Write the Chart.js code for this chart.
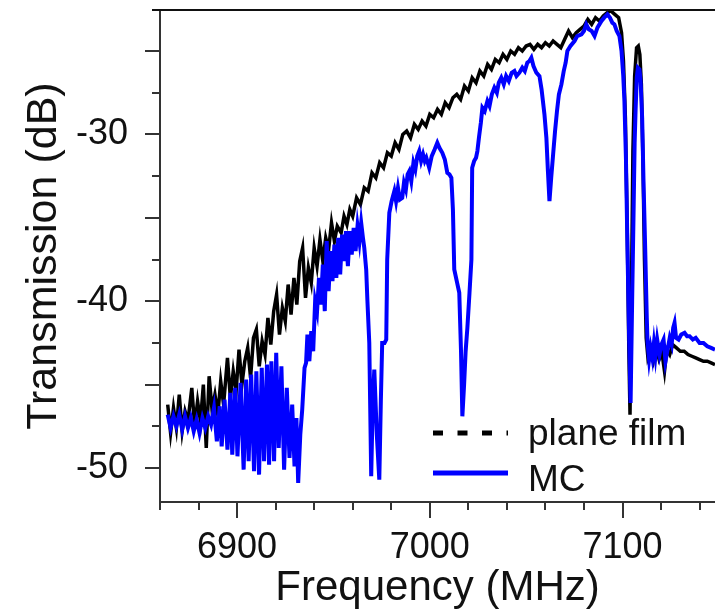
<!DOCTYPE html>
<html lang="en">
<head>
<meta charset="UTF-8">
<title>Transmission</title>
<script src="https://cdn.jsdelivr.net/npm/chart.js"></script>
<style>
  html, body { margin: 0; padding: 0; background: #fff; overflow: hidden; }
</style>
</head>
<body>
<canvas id="myChart" width="715" height="615"></canvas>
<script>

// plane film trace, frequency (MHz) / transmission (dB)
const filmFreq = [
  6864.0, 6865.5, 6867.0, 6868.5, 6870.0, 6871.5, 6873.0, 6874.5, 6876.5, 6878.0,
  6879.5, 6881.0, 6882.5, 6884.0, 6885.5, 6887.0, 6888.5, 6890.0, 6891.5, 6893.0,
  6895.0, 6896.5, 6898.0, 6899.5, 6901.0, 6902.5, 6904.0, 6905.5, 6907.0, 6908.5,
  6910.0, 6911.5, 6913.0, 6914.5, 6916.0, 6917.5, 6919.0, 6920.5, 6922.0, 6923.5,
  6925.0, 6926.5, 6928.0, 6929.5, 6931.0, 6932.5, 6934.0, 6935.5, 6937.0, 6938.5,
  6940.0, 6941.5, 6943.0, 6944.5, 6946.0, 6947.5, 6949.0, 6950.5, 6952.0, 6954.0,
  6955.5, 6957.0, 6958.5, 6960.0, 6962.0, 6964.0, 6966.0, 6968.0, 6970.0, 6972.0,
  6974.0, 6976.0, 6978.0, 6980.0, 6982.0, 6984.0, 6986.0, 6988.0, 6990.0, 6992.0,
  6994.0, 6996.0, 6998.0, 7000.0, 7002.0, 7004.0, 7006.0, 7008.0, 7010.0, 7012.0,
  7014.0, 7016.0, 7018.0, 7020.0, 7022.0, 7024.0, 7026.0, 7028.0, 7030.0, 7032.0,
  7034.0, 7036.0, 7038.0, 7040.0, 7042.0, 7044.0, 7046.0, 7048.0, 7050.0, 7052.0,
  7054.0, 7056.0, 7058.0, 7060.0, 7062.0, 7064.0, 7066.0, 7068.0, 7070.0, 7072.0,
  7074.0, 7076.0, 7078.0, 7080.0, 7082.0, 7084.0, 7086.0, 7088.0, 7090.0, 7092.0,
  7094.0, 7096.0, 7098.0, 7099.5, 7100.5, 7101.5, 7102.5, 7103.3, 7103.9, 7104.6,
  7105.4, 7106.3, 7107.3, 7108.2, 7109.0, 7109.8, 7110.6, 7111.4, 7112.3, 7113.2,
  7114.5, 7116.0, 7117.5, 7119.0, 7120.5, 7121.8, 7123.0, 7124.5, 7126.0, 7128.0,
  7130.0, 7132.0, 7134.0, 7136.0, 7138.0, 7140.0, 7142.0, 7144.0, 7146.0, 7148.0
];
const filmDb = [
  -46.2, -47.9, -46.4, -47.6, -45.6, -47.8, -46.6, -47.2, -45.2, -47.5,
  -46.0, -47.2, -45.0, -48.8, -44.5, -46.5, -45.6, -46.8, -44.8, -46.2,
  -43.4, -45.8, -44.2, -45.4, -42.9, -45.0, -43.6, -42.8, -44.6, -42.2,
  -41.7, -43.9, -42.4, -43.2, -41.0, -42.6, -40.6, -39.6, -42.0, -40.4,
  -41.2, -39.0, -40.8, -38.6, -40.2, -37.6, -36.8, -39.8, -38.0, -38.9,
  -36.8, -37.9, -36.3, -37.6, -36.2, -36.9, -35.3, -36.4, -35.5, -35.9,
  -34.9, -35.4, -34.5, -34.9, -33.8, -34.2, -33.2, -33.4, -32.3, -32.6,
  -31.7, -32.0, -31.1, -31.3, -30.5, -30.9, -30.0, -29.8, -30.2, -29.4,
  -29.7, -29.2, -29.5, -28.8, -29.0, -28.5, -28.8, -28.1, -28.4, -27.8,
  -27.6, -27.9, -27.1, -27.4, -26.6, -26.9, -26.2, -26.5, -25.8, -26.1,
  -25.5, -25.7, -25.2, -25.5, -25.0, -25.2, -24.8, -25.0, -24.7, -24.6,
  -24.9, -24.6, -24.8, -24.5, -24.7, -24.4, -24.6, -24.8, -24.3, -23.8,
  -24.2, -23.9, -23.7, -23.5, -23.1, -23.4, -23.0, -23.2, -22.9, -22.7,
  -22.6, -22.8, -23.0, -23.9, -25.6, -29.0, -36.0, -43.0, -46.8, -40.0,
  -31.0, -26.5, -24.8, -24.7, -25.2, -27.0, -31.5, -37.5, -42.2, -43.4,
  -43.0, -43.6, -42.8, -43.5, -43.1, -44.2, -42.9, -43.2, -42.6, -42.8,
  -43.0, -43.0, -43.2, -43.3, -43.4, -43.5, -43.6, -43.6, -43.7, -43.8
];

// MC trace
const mcFreq = [
  6864.0, 6865.5, 6867.0, 6868.5, 6870.0, 6871.5, 6873.0, 6874.5, 6876.0, 6877.5,
  6879.0, 6880.5, 6882.0, 6883.5, 6885.0, 6886.5, 6888.0, 6889.5, 6891.0, 6892.0,
  6893.5, 6895.0, 6896.5, 6897.5, 6899.0, 6900.2, 6901.8, 6903.4, 6904.7, 6906.0,
  6907.3, 6908.8, 6910.0, 6911.4, 6912.8, 6914.0, 6915.5, 6916.6, 6917.8, 6919.2,
  6920.3, 6921.6, 6923.0, 6924.4, 6925.8, 6927.2, 6928.6, 6929.8, 6930.8, 6931.7,
  6932.8, 6933.8, 6935.0, 6935.8, 6936.5, 6937.5, 6938.5, 6939.5, 6940.5, 6941.5,
  6942.5, 6943.5, 6944.5, 6945.5, 6946.5, 6947.5, 6948.5, 6949.5, 6950.5, 6951.5,
  6952.5, 6953.5, 6954.5, 6955.5, 6956.5, 6957.5, 6958.5, 6959.5, 6960.5, 6961.5,
  6962.5, 6963.5, 6964.4, 6965.3, 6966.0, 6967.0, 6967.6, 6968.6, 6969.6, 6970.4,
  6971.2, 6972.5, 6973.8, 6974.6, 6975.3, 6976.5, 6977.4, 6977.9, 6979.0, 6980.2,
  6981.6, 6982.5, 6983.5, 6984.5, 6985.7, 6986.6, 6987.6, 6988.5, 6989.4, 6990.4,
  6991.5, 6992.5, 6993.5, 6994.5, 6995.5, 6996.5, 6997.4, 6998.2, 6999.7, 7001.0,
  7002.5, 7003.9, 7005.0, 7006.5, 7007.8, 7009.1, 7010.2, 7011.2, 7012.0, 7012.7,
  7014.0, 7015.3, 7016.2, 7016.9, 7017.8, 7018.6, 7019.5, 7020.6, 7021.6, 7022.0,
  7023.0, 7024.0, 7024.7, 7025.5, 7026.5, 7027.3, 7028.5, 7029.9, 7031.0, 7032.2,
  7033.5, 7034.8, 7035.8, 7037.1, 7038.4, 7039.6, 7041.0, 7042.5, 7043.9, 7045.0,
  7046.5, 7048.0, 7049.3, 7050.6, 7051.7, 7052.7, 7053.8, 7055.3, 7056.9, 7058.0,
  7059.5, 7060.5, 7061.3, 7062.1, 7063.0, 7064.0, 7065.0, 7066.0, 7067.0, 7068.3,
  7069.5, 7070.5, 7071.4, 7073.0, 7075.1, 7076.5, 7078.7, 7080.0, 7081.2, 7082.5,
  7084.0, 7085.5, 7087.0, 7089.1, 7090.5, 7092.2, 7093.5, 7094.7, 7095.8, 7097.0,
  7098.4, 7099.5, 7100.4, 7101.0, 7101.8, 7102.6, 7103.4, 7104.2, 7105.0, 7105.7,
  7106.3, 7106.8, 7107.4, 7108.0, 7108.8, 7109.4, 7110.2, 7110.9, 7111.8, 7112.6,
  7113.0, 7113.8, 7114.6, 7115.5, 7116.3, 7117.1, 7118.0, 7119.2, 7120.2, 7121.3,
  7122.3, 7123.4, 7124.5, 7125.5, 7126.3, 7127.0, 7127.8, 7129.1, 7130.5, 7132.2,
  7133.5, 7134.8, 7136.5, 7138.0, 7140.0, 7142.0, 7144.0, 7146.0, 7148.0
];
const mcDb = [
  -46.8, -47.6, -46.9, -47.5, -46.8, -47.7, -46.9, -47.6, -47.0, -47.8,
  -47.1, -47.9, -47.0, -47.6, -46.9, -47.4, -46.4, -48.4, -46.3, -48.7,
  -45.9, -48.9, -45.5, -49.2, -45.2, -49.3, -44.9, -50.1, -44.7, -49.6,
  -44.4, -50.2, -44.2, -50.4, -44.0, -49.6, -43.8, -49.8, -43.6, -49.6,
  -43.1, -48.8, -43.9, -50.1, -45.2, -49.4, -46.2, -49.9, -47.0, -50.9,
  -48.0, -46.5, -44.0, -43.7, -42.0, -43.6, -41.8, -43.0, -40.0, -40.6,
  -38.6, -40.2, -37.8, -40.6, -36.4, -39.4, -37.0, -38.8, -36.6, -38.6,
  -36.2, -38.4, -36.0, -37.6, -35.8, -37.9, -35.8, -37.2, -35.6, -37.0,
  -35.5, -36.4, -35.3, -36.2, -36.8, -38.1, -39.9, -42.5, -50.5, -46.0,
  -44.1, -48.0, -50.7, -46.0, -42.5, -42.5, -42.3, -37.5, -34.7, -34.0,
  -33.4, -34.0, -33.2, -33.9, -33.8, -32.9, -33.3, -32.4, -32.2, -32.8,
  -31.7, -32.1, -31.3, -31.0, -31.6, -31.2, -31.6, -31.4, -32.0, -31.3,
  -30.9, -30.5, -30.8, -31.1, -31.5, -32.3, -32.4, -32.6, -34.5, -38.1,
  -38.8, -39.5, -43.0, -46.9, -45.0, -43.0, -41.6, -39.5, -37.5, -32.0,
  -31.6, -31.4, -31.0, -30.2, -29.3, -28.4, -28.6, -28.0, -28.3, -27.6,
  -27.2, -27.5, -26.9, -26.6, -27.0, -26.5, -26.8, -26.3, -26.2, -26.5,
  -26.3, -26.0, -26.2, -25.7, -25.6, -25.4, -25.9, -26.3, -26.5, -27.3,
  -28.8, -30.2, -32.2, -34.0, -32.6, -31.2, -29.8, -28.6, -27.6, -27.0,
  -26.2, -25.7, -25.0, -24.7, -24.4, -24.1, -24.0, -23.8, -23.4, -23.7,
  -23.8, -24.1, -23.6, -23.2, -23.0, -22.8, -23.0, -23.3, -23.4, -23.8,
  -24.1, -25.0, -26.5, -28.0, -31.5, -37.0, -42.0, -46.1, -40.0, -35.0,
  -30.5, -28.5, -26.6, -26.0, -26.1, -26.8, -29.0, -32.8, -37.0, -41.0,
  -42.5, -43.5, -42.8, -43.4, -42.5, -43.3, -42.3, -43.2, -42.6, -42.3,
  -43.6, -42.9, -42.2, -42.6, -41.6, -41.3, -42.2, -42.3, -42.0, -41.9,
  -42.1, -42.1, -42.3, -42.2, -42.5, -42.5, -42.7, -42.8, -42.9
];

const seriesLabels = ['plane film', 'MC'];
const xTickLabels = [6900, 7000, 7100];
const yTickLabels = [-30, -40, -50];

const axisColor = '#333';
const textColor = '#111';

Chart.defaults.font.family = "'Liberation Sans', Arial, sans-serif";
Chart.defaults.color = textColor;

// long ticks on the labelled / half steps, short ones in between
const tickMarks = {
  id: 'tickMarks',
  afterDraw(chart) {
    const ctx = chart.ctx;
    const area = chart.chartArea;
    const xs = chart.scales.x, ys = chart.scales.y;
    ctx.save();
    ctx.strokeStyle = axisColor;
    ctx.lineWidth = 2;
    ctx.beginPath();
    xs.ticks.forEach(t => {
      const px = Math.round(xs.getPixelForValue(t.value));
      const len = t.value % 100 === 0 ? 16 : 8;
      ctx.moveTo(px, area.bottom);
      ctx.lineTo(px, area.bottom + len);
    });
    ys.ticks.forEach(t => {
      const py = Math.round(ys.getPixelForValue(t.value));
      const len = t.value % 5 === 0 ? 15 : 8;
      ctx.moveTo(area.left, py);
      ctx.lineTo(area.left - len, py);
    });
    ctx.stroke();
    // top frame
    ctx.strokeStyle = '#111';
    ctx.beginPath();
    ctx.moveTo(area.left - 8, area.top);
    ctx.lineTo(area.right, area.top);
    ctx.stroke();
    ctx.restore();
  }
};

// legend sits inside the plot, bottom right
const insideLegend = {
  id: 'insideLegend',
  afterDraw(chart) {
    const ctx = chart.ctx;
    const area = chart.chartArea;
    const x0 = area.left + 273;
    ctx.save();
    ctx.font = "37px 'Liberation Sans', Arial, sans-serif";
    ctx.fillStyle = textColor;
    ctx.textBaseline = 'alphabetic';
    chart.data.datasets.forEach((ds, i) => {
      const ly = area.bottom - 69 + i * 40;
      ctx.strokeStyle = ds.borderColor;
      ctx.lineWidth = 5;
      ctx.setLineDash(ds.legendDash || []);
      ctx.beginPath();
      ctx.moveTo(x0, ly);
      ctx.lineTo(x0 + 75, ly);
      ctx.stroke();
      ctx.setLineDash([]);
      ctx.fillText(ds.label, x0 + 95, area.bottom - 57 + i * 46);
    });
    ctx.restore();
  }
};

const ctx = document.getElementById('myChart').getContext('2d');

new Chart(ctx, {
  type: 'line',
  data: {
    datasets: [
      {
        label: seriesLabels[0],
        data: filmFreq.map((f, i) => ({ x: f, y: filmDb[i] })),
        borderColor: '#000000',
        borderWidth: 3.5,
        pointRadius: 0,
        tension: 0,
        order: 2,
        legendDash: [10, 14.5]
      },
      {
        label: seriesLabels[1],
        data: mcFreq.map((f, i) => ({ x: f, y: mcDb[i] })),
        borderColor: '#0000ff',
        borderWidth: 4,
        pointRadius: 0,
        tension: 0,
        order: 1
      }
    ]
  },
  options: {
    responsive: false,
    animation: false,
    layout: { padding: { top: 10, right: 0, left: 0, bottom: 0 } },
    plugins: {
      legend: { display: false },
      tooltip: { enabled: false }
    },
    scales: {
      x: {
        type: 'linear',
        min: 6860,
        max: 7148,
        grid: { display: true, drawOnChartArea: false, drawTicks: true, tickLength: 16, tickColor: 'rgba(0,0,0,0)' },
        border: { display: true, color: axisColor, width: 2 },
        ticks: {
          stepSize: 20,
          includeBounds: false,
          autoSkip: false,
          maxRotation: 0,
          padding: 8,
          font: { size: 36 },
          color: textColor,
          callback: v => xTickLabels.includes(v) ? String(v) : ''
        },
        title: {
          display: true,
          text: 'Frequency (MHz)',
          font: { size: 42, lineHeight: 1 },
          color: textColor,
          padding: { top: 0, bottom: 6 }
        },
        afterFit: s => { s.height = 113; s.paddingLeft = 0; s.paddingRight = 0; }
      },
      y: {
        min: -52.04,
        max: -22.54,
        grid: { display: true, drawOnChartArea: false, drawTicks: true, tickLength: 15, tickColor: 'rgba(0,0,0,0)' },
        border: { display: true, color: axisColor, width: 2 },
        ticks: {
          stepSize: 2.5,
          includeBounds: false,
          autoSkip: false,
          padding: 17,
          font: { size: 36 },
          color: textColor,
          callback: v => yTickLabels.includes(v) ? String(v) : ''
        },
        title: {
          display: true,
          text: 'Transmission (dB)',
          font: { size: 43, lineHeight: 1 },
          color: textColor,
          padding: { top: 23, bottom: 0 }
        },
        afterFit: s => { s.width = 160; s.paddingTop = 0; s.paddingBottom = 0; }
      }
    }
  },
  plugins: [tickMarks, insideLegend]
});
</script>
</body>
</html>
